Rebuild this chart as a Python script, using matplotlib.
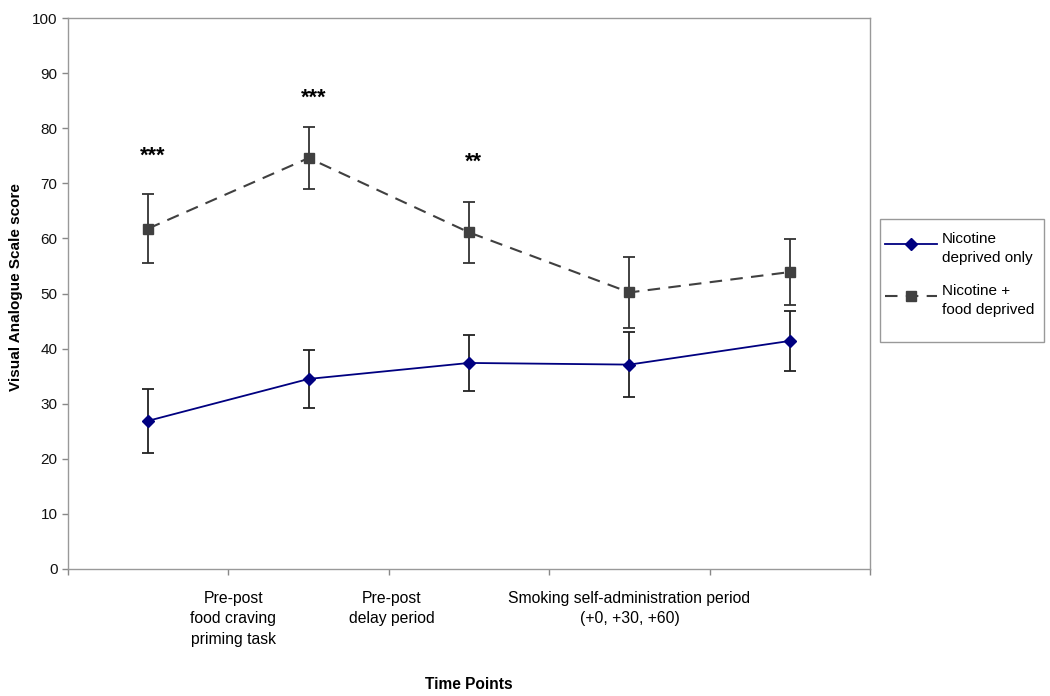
import matplotlib
matplotlib.use("Agg")
import matplotlib.pyplot as plt
from matplotlib.lines import Line2D
from matplotlib.patches import Rectangle
from matplotlib.legend_handler import HandlerLine2D
import numpy as np

plt.rcParams["font.family"] = ["Liberation Sans", "DejaVu Sans"]

# Data
time_points = [1, 2, 3, 4, 5]
nic_only = [26.9, 34.5, 37.4, 37.1, 41.4]
nic_only_err = [5.8, 5.2, 5.1, 5.9, 5.5]
nic_food = [61.8, 74.6, 61.1, 50.2, 53.9]
nic_food_err = [6.2, 5.7, 5.6, 6.5, 6.0]
sig_labels = ["***", "***", "**", "", ""]
sig_heights = [74.9, 85.4, 73.8, None, None]
period_labels = ["Pre-post\nfood craving\npriming task", "Pre-post\ndelay period",
                 "Smoking self-administration period\n(+0, +30, +60)"]
period_pos = [1.03, 2.02, 3.5]
legend_labels = ["Nicotine\ndeprived only", "Nicotine +\nfood deprived"]


class TopLineHandler(HandlerLine2D):
    """Put the legend handle level with the first line of a two-line label."""
    def create_artists(self, legend, orig_handle, xdescent, ydescent, width, height,
                       fontsize, trans):
        return super().create_artists(legend, orig_handle, xdescent,
                                      ydescent - 0.62 * fontsize, width, height,
                                      fontsize, trans)


fig = plt.figure(figsize=(10.5, 6.96), dpi=100)
ax = fig.add_axes([0.0648, 0.1825, 0.7638, 0.7915])

x = np.array(time_points) - 0.5

navy = "#000080"
grey = "#404040"
dash = (0, (6, 4))

ax.errorbar(x, nic_only, yerr=nic_only_err, color=navy, marker="D", markersize=6,
            linewidth=1.3, ecolor="#222222", elinewidth=1.3, capsize=4, capthick=1.3,
            zorder=3)
ax.errorbar(x, nic_food, yerr=nic_food_err, color=grey, marker="s", markersize=7,
            linewidth=1.5, linestyle=dash, ecolor="#333333", elinewidth=1.3,
            capsize=4, capthick=1.3, zorder=3)

# significance stars
for xi, lab, h in zip(x, sig_labels, sig_heights):
    if lab:
        ax.text(xi + 0.03, h, lab, ha="center", va="center", fontsize=15.5, fontweight="bold")

ax.set_xlim(0, 5)
ax.set_ylim(0, 100)
ax.set_yticks(range(0, 101, 10))
ax.set_xticks(range(0, 6))
ax.set_xticklabels([])
ax.tick_params(axis="both", colors="#888888", labelcolor="#111111", labelsize=11,
               length=4, width=1)

for s in ax.spines.values():
    s.set_color("#999999")
    s.set_linewidth(1)

# period labels under the x axis
for pos, lab in zip(period_pos, period_labels):
    ax.text(pos, -4.0, lab, ha="center", va="top", fontsize=11.3, linespacing=1.45)

ax.set_xlabel("Time Points", fontsize=11.2, fontweight="bold")
ax.xaxis.set_label_coords(0.5, -0.196)
ax.set_ylabel("Visual Analogue Scale score", fontsize=11, fontweight="bold")
ax.yaxis.set_label_coords(-0.056, 0.512)

# legend: frame drawn separately (behind) so padding can differ across / down
fig.patches.append(Rectangle((0.8381, 0.5086), 0.1562, 0.1767, transform=fig.transFigure,
                             facecolor="white", edgecolor="#999999", linewidth=1,
                             zorder=-1))
handles = [
    Line2D([], [], color=navy, marker="D", markersize=6, linewidth=1.3),
    Line2D([], [], color=grey, marker="s", markersize=7, linewidth=1.5, linestyle=dash),
]
leg = ax.legend(handles, legend_labels, loc="upper left", bbox_to_anchor=(0.8429, 0.6667),
                bbox_transform=fig.transFigure, borderaxespad=0, borderpad=0,
                fontsize=11, frameon=False, handlelength=3.4, labelspacing=1.25,
                handletextpad=0.33, handler_map={Line2D: TopLineHandler()})
for t in leg.get_texts():
    t.set_linespacing(1.45)

fig.savefig("out.png", dpi=100)
